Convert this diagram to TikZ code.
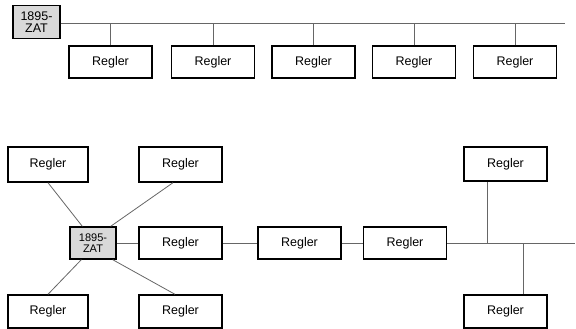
\documentclass[tikz,border=0pt]{standalone}
\usepackage{fontspec}
\setmainfont{Liberation Sans}
\usetikzlibrary{calc}
\begin{document}
\begin{tikzpicture}[x=1pt,y=-1pt,
  regbox/.style={draw=black,line width=1.4pt,fill=white,minimum width=83pt,minimum height=33pt,inner sep=0pt,font=\fontsize{12.5}{14}\selectfont},
  zatbox/.style={draw=black,line width=1.4pt,fill=black!15,minimum width=46pt,minimum height=32pt,inner sep=0pt,align=center},
  link/.style={draw=black!60,line width=0.8pt}]
\useasboundingbox (0,0) rectangle (576,329);
% top
\node[zatbox,minimum width=47pt,minimum height=33pt,font=\fontsize{12.5}{11.5}\selectfont] (zt) at (36.5,22) {1895-\\ZAT};
\coordinate (busend) at (565,23);
\node[regbox,minimum height=32pt] (t1) at (110.5,62) {Regler};
\node[regbox,minimum height=32pt] (t2) at (213,62) {Regler};
\node[regbox,minimum height=32pt] (t3) at (313.5,62) {Regler};
\node[regbox,minimum height=32pt] (t4) at (414,62) {Regler};
\node[regbox,minimum height=32pt] (t5) at (515,62) {Regler};
\draw[link] (zt.east |- busend) -- (busend);
\foreach \n in {t1,t2,t3,t4,t5}{\draw[link] (\n.north) -- (\n.north |- busend);}
% bottom
\node[zatbox,font=\fontsize{11}{10.5}\selectfont] (zb) at (93,243) {1895-\\ZAT};
\node[regbox,minimum width=80pt,minimum height=35pt] (tl) at (48,164.5) {Regler};
\node[regbox,minimum height=35pt] (tr) at (180.5,164.5) {Regler};
\node[regbox,minimum height=32pt] (r1) at (180.5,243) {Regler};
\node[regbox,minimum height=32pt] (r2) at (299.5,243) {Regler};
\node[regbox,minimum height=32pt] (r3) at (405,243) {Regler};
\node[regbox,minimum width=80pt,minimum height=33pt] (bl) at (48,311.5) {Regler};
\node[regbox,minimum height=33pt] (br) at (180.5,311.5) {Regler};
\node[regbox,minimum height=34pt] (trr) at (505.5,164) {Regler};
\node[regbox,minimum height=33pt] (brr) at (505.5,311.5) {Regler};
\coordinate (lineend) at (575,243);
\coordinate (jup) at (487,243);
\coordinate (jdn) at (523,243);
\draw[link] (tl.south) -- ($(zb.north west)+(13,0)$);
\draw[link] ($(tr.south)+(-7.5,0)$) -- ($(zb.north east)+(-6,0)$);
\draw[link] ($(zb.south west)+(12,0)$) -- (bl.north);
\draw[link] ($(zb.south east)+(-4,0)$) -- ($(br.north)+(-5.5,0)$);
\draw[link] (zb) -- (r1);
\draw[link] (r1) -- (r2);
\draw[link] (r2) -- (r3);
\draw[link] (r3.east) -- (lineend);
\draw[link] (jup) -- (jup |- trr.south);
\draw[link] (jdn) -- (jdn |- brr.north);
\end{tikzpicture}
\end{document}
